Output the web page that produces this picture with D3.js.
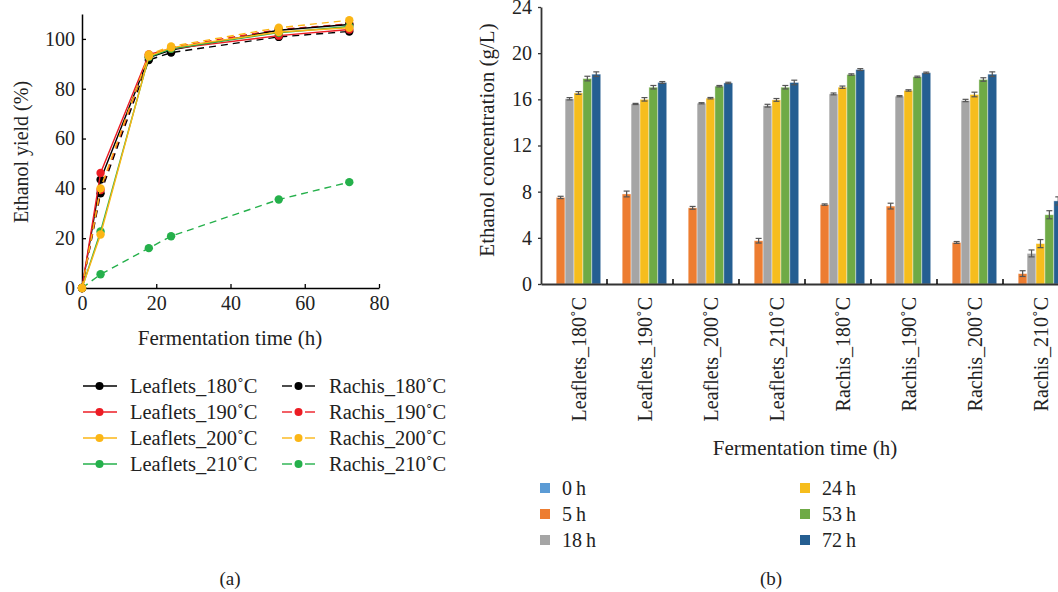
<!DOCTYPE html>
<html>
<head>
<meta charset="utf-8">
<script src="https://cdn.jsdelivr.net/npm/d3@7"></script>
<style>
  body { margin: 0; background: #fff; }
  svg { font-family: "Liberation Serif", "DejaVu Serif", serif; }
</style>
</head>
<body>
<div id="chart"></div>
<script>
// (a) 発酵時間と収率
const hours = [0, 5, 18, 24, 53, 72];
const lineNames = ["Leaflets_180˚C", "Leaflets_190˚C", "Leaflets_200˚C", "Leaflets_210˚C",
                   "Rachis_180˚C", "Rachis_190˚C", "Rachis_200˚C", "Rachis_210˚C"];
const leaflets180 = [0, 43.5, 92.5, 95.5, 103.5, 105.8];
const leaflets190 = [0, 46.2, 93.8, 96, 101.3, 103.8];
const leaflets200 = [0, 21.5, 93, 96.5, 102.8, 104.5];
const leaflets210 = [0, 22.7, 92.7, 96, 102.5, 105];
const rachis180 = [0, 38, 91.5, 94.5, 100.8, 103];
const rachis190 = [0, 39.3, 93.2, 96.5, 103.8, 106];
const rachis200 = [0, 40, 93.8, 97, 104.5, 107.5];
const rachis210 = [0, 5.5, 16, 20.8, 35.5, 42.5];
const yieldTicks = [0, 20, 40, 60, 80, 100];
const timeTicks = [0, 20, 40, 60, 80];

// (b) 濃度
const groups = ["Leaflets_180˚C", "Leaflets_190˚C", "Leaflets_200˚C", "Leaflets_210˚C",
                "Rachis_180˚C", "Rachis_190˚C", "Rachis_200˚C", "Rachis_210˚C"];
const timeKeys = ["0 h", "5 h", "18 h", "24 h", "53 h", "72 h"];
const conc0h  = [0, 0, 0, 0, 0, 0, 0, 0];
const conc5h  = [7.5, 7.8, 6.6, 3.75, 6.88, 6.75, 3.6, 0.9];
const conc18h = [16.05, 15.6, 15.66, 15.45, 16.47, 16.27, 15.9, 2.65];
const conc24h = [16.55, 16.0, 16.1, 15.95, 17.05, 16.77, 16.42, 3.5];
const conc53h = [17.8, 17.05, 17.14, 17.05, 18.15, 17.95, 17.72, 6.0];
const conc72h = [18.18, 17.46, 17.42, 17.46, 18.58, 18.3, 18.18, 7.2];
const err5h  = [0.1, 0.25, 0.12, 0.2, 0.06, 0.25, 0.08, 0.25];
const err18h = [0.1, 0.05, 0.05, 0.12, 0.08, 0.05, 0.1, 0.3];
const err24h = [0.12, 0.15, 0.06, 0.12, 0.1, 0.06, 0.2, 0.35];
const err53h = [0.2, 0.15, 0.06, 0.15, 0.06, 0.06, 0.15, 0.35];
const err72h = [0.2, 0.08, 0.06, 0.2, 0.08, 0.06, 0.2, 0.35];
const concTicks = [0, 4, 8, 12, 16, 20, 24];

const lineColors = ["#000000", "#ec1c24", "#fbb616", "#25b04b"];
const barColors = ["#5b9bd5", "#ed7d31", "#a5a5a5", "#f6bd1d", "#6faa46", "#255e91"];
const axisColor = "#333";

const svg = d3.select("#chart").append("svg")
  .attr("width", 1058).attr("height", 592);

// ---------- (a) ----------
const lineSeries = [leaflets180, leaflets190, leaflets200, leaflets210,
                    rachis180, rachis190, rachis200, rachis210];
const xA = d3.scaleLinear().domain([0, 80]).range([82, 379]);
const yA = d3.scaleLinear().domain([0, 110]).range([288, 14]);

const gA = svg.append("g");
gA.append("g").attr("transform", "translate(0,288)")
  .call(d3.axisBottom(xA).tickValues(timeTicks).tickSizeInner(-4).tickSizeOuter(0).tickPadding(8))
  .call(g => g.select(".domain").attr("stroke", "#000").attr("stroke-width", 1.5))
  .call(g => g.selectAll("line").attr("stroke", "#000").attr("stroke-width", 1.3))
  .call(g => g.selectAll("text").attr("font-size", 20).attr("font-family", "Liberation Serif").attr("fill", "#222"));
gA.append("g").attr("transform", "translate(82,0)")
  .call(d3.axisLeft(yA).tickValues(yieldTicks).tickSizeInner(-4).tickSizeOuter(0).tickPadding(7))
  .call(g => g.select(".domain").attr("stroke", "#000").attr("stroke-width", 1.5))
  .call(g => g.selectAll("line").attr("stroke", "#000").attr("stroke-width", 1.3))
  .call(g => g.selectAll("text").attr("font-size", 20).attr("font-family", "Liberation Serif").attr("fill", "#222"));

gA.append("text").attr("x", 230).attr("y", 345).attr("text-anchor", "middle")
  .attr("font-size", 21).attr("fill", "#222").text("Fermentation time (h)");
gA.append("text").attr("transform", "translate(28,152) rotate(-90)").attr("text-anchor", "middle")
  .attr("font-size", 20).attr("fill", "#222").text("Ethanol yield (%)");

const line = d3.line().x((d, i) => xA(hours[i])).y(d => yA(d));
// 描画順: 下から上
const drawOrder = [7, 4, 5, 0, 1, 3, 2, 6];
drawOrder.forEach(k => {
  const col = lineColors[k % 4];
  const dashed = k >= 4;
  gA.append("path").datum(lineSeries[k])
    .attr("fill", "none").attr("stroke", col).attr("stroke-width", 1.4)
    .attr("stroke-dasharray", dashed ? "7,5" : null)
    .attr("d", line);
  gA.selectAll(null).data(lineSeries[k]).enter().append("circle")
    .attr("cx", (d, i) => xA(hours[i])).attr("cy", d => yA(d))
    .attr("r", 4.2).attr("fill", col);
});

// 凡例 (a)
lineNames.forEach((name, k) => {
  const col = lineColors[k % 4];
  const dashed = k >= 4;
  const x0 = dashed ? 282 : 83;
  const y0 = 386 + (k % 4) * 26;
  const lg = gA.append("g");
  if (dashed) {
    lg.append("line").attr("x1", x0).attr("x2", x0 + 10).attr("y1", y0).attr("y2", y0).attr("stroke", col).attr("stroke-width", 1.4);
    lg.append("line").attr("x1", x0 + 23).attr("x2", x0 + 33).attr("y1", y0).attr("y2", y0).attr("stroke", col).attr("stroke-width", 1.4);
  } else {
    lg.append("line").attr("x1", x0).attr("x2", x0 + 34).attr("y1", y0).attr("y2", y0).attr("stroke", col).attr("stroke-width", 1.4);
  }
  lg.append("circle").attr("cx", x0 + 16.5).attr("cy", y0).attr("r", 4).attr("fill", col);
  lg.append("text").attr("x", dashed ? 329 : 130).attr("y", y0 + 7)
    .attr("font-size", 20.5).attr("fill", "#222").text(name);
});

gA.append("text").attr("x", 230).attr("y", 585).attr("text-anchor", "middle")
  .attr("font-size", 19).attr("fill", "#222").text("(a)");

// ---------- (b) ----------
const concSeries = [conc0h, conc5h, conc18h, conc24h, conc53h, conc72h];
const errSeries = [null, err5h, err18h, err24h, err53h, err72h];
const xB = d3.scaleBand().domain(groups).range([541, 1069]).paddingInner(0.19).paddingOuter(0.095);
const xB0 = d3.scaleBand().domain(groups).range([541, 1069]);
const xSub = d3.scaleBand().domain(timeKeys).range([0, xB.bandwidth()]);
const yB = d3.scaleLinear().domain([0, 24]).range([284, 7]);

const gB = svg.append("g");

groups.forEach((grp, gi) => {
  timeKeys.forEach((tk, si) => {
    const v = concSeries[si][gi];
    const bx = xB(grp) + xSub(tk);
    gB.append("rect")
      .attr("x", bx).attr("y", yB(v))
      .attr("width", xSub.bandwidth()).attr("height", yB(0) - yB(v))
      .attr("fill", barColors[si])
      .attr("stroke", "#fff").attr("stroke-opacity", 0.5).attr("stroke-width", 0.8);
    if (errSeries[si]) {
      const e = errSeries[si][gi];
      const cx = bx + xSub.bandwidth() / 2;
      gB.append("line").attr("x1", cx).attr("x2", cx)
        .attr("y1", yB(v - e)).attr("y2", yB(v + e)).attr("stroke", "#555").attr("stroke-width", 1.2);
      [v - e, v + e].forEach(yy => {
        gB.append("line").attr("x1", cx - 3).attr("x2", cx + 3)
          .attr("y1", yB(yy)).attr("y2", yB(yy)).attr("stroke", "#555").attr("stroke-width", 1.2);
      });
    }
  });
});

gB.append("g").attr("transform", "translate(0,284)")
  .call(d3.axisBottom(xB0).tickSize(0).tickFormat(""))
  .call(g => g.select(".domain").attr("stroke", axisColor).attr("stroke-width", 1.8));
// 区切り目盛り
gB.selectAll(null).data(groups.slice(1)).enter().append("line")
  .attr("x1", d => xB0(d)).attr("x2", d => xB0(d))
  .attr("y1", 284).attr("y2", 279).attr("stroke", "#000").attr("stroke-width", 1.5);
gB.selectAll(null).data(groups).enter().append("text")
  .attr("transform", d => `translate(${xB0(d) + xB0.bandwidth() / 2 + 12},297) rotate(-90)`)
  .attr("text-anchor", "end").attr("font-size", 20).attr("fill", "#222").text(d => d);

gB.append("g").attr("transform", "translate(541,0)")
  .call(d3.axisLeft(yB).tickValues(concTicks).tickSizeInner(3).tickSizeOuter(0).tickPadding(6))
  .call(g => g.select(".domain").attr("stroke", axisColor).attr("stroke-width", 1.8))
  .call(g => g.selectAll("line").attr("stroke", axisColor).attr("stroke-width", 1.3))
  .call(g => g.selectAll("text").attr("font-size", 20).attr("font-family", "Liberation Serif").attr("fill", "#222"));

gB.append("text").attr("transform", "translate(494,140) rotate(-90)").attr("text-anchor", "middle")
  .attr("font-size", 21).attr("fill", "#222").text("Ethanol concentration (g/L)");
gB.append("text").attr("x", 805).attr("y", 455).attr("text-anchor", "middle")
  .attr("font-size", 21).attr("fill", "#222").text("Fermentation time (h)");

// 凡例 (b)
timeKeys.forEach((tk, si) => {
  const col = si < 3 ? 0 : 1;
  const x0 = col === 0 ? 540 : 800;
  const y0 = 488 + (si % 3) * 26;
  gB.append("rect").attr("x", x0).attr("y", y0 - 5).attr("width", 10).attr("height", 10).attr("fill", barColors[si]);
  gB.append("text").attr("x", x0 + 22).attr("y", y0 + 7).attr("font-size", 20).attr("fill", "#222")
    .text(tk.replace(" ", "\u2009"));
});

gB.append("text").attr("x", 771).attr("y", 585).attr("text-anchor", "middle")
  .attr("font-size", 19).attr("fill", "#222").text("(b)");
</script>
</body>
</html>
